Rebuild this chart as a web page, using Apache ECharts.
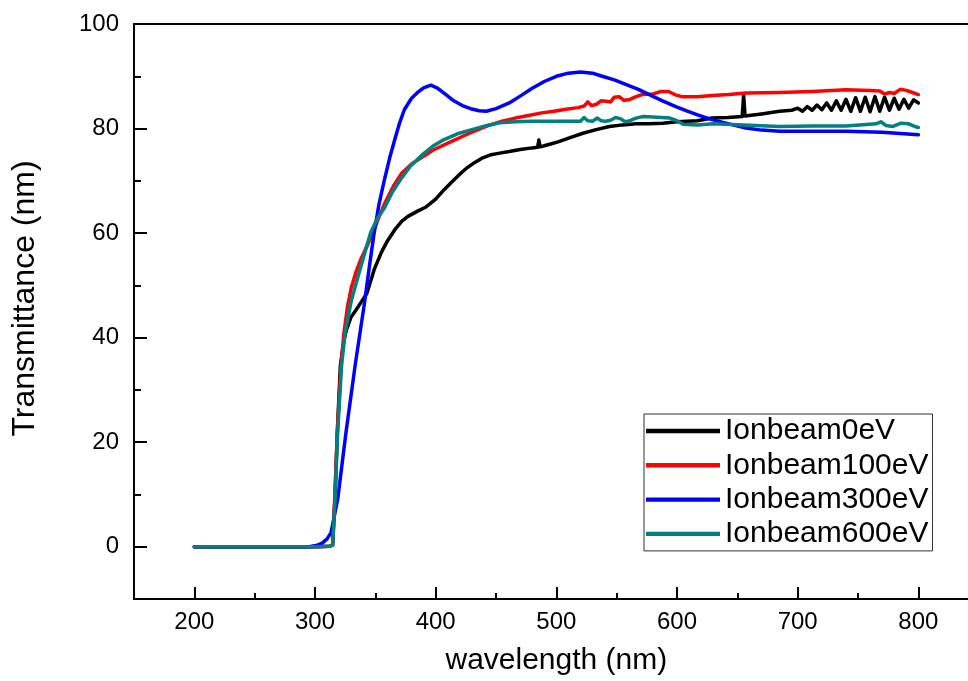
<!DOCTYPE html>
<html>
<head>
<meta charset="utf-8">
<script src="https://cdn.jsdelivr.net/npm/echarts@6/dist/echarts.min.js"></script>
<style>
html,body{margin:0;padding:0;background:#fff;overflow:hidden;width:968px;height:681px;}
#main{width:990px;height:681px;}
</style>
</head>
<body>
<div id="main"></div>
<script>
const seriesNames = ['Ionbeam0eV', 'Ionbeam100eV', 'Ionbeam300eV', 'Ionbeam600eV'];
const xMajorTicks = [200, 300, 400, 500, 600, 700, 800];
const xMinorTicks = [250, 350, 450, 550, 650, 750];
const yMajorTicks = [0, 20, 40, 60, 80, 100];
const yMinorTicks = [10, 30, 50, 70, 90];

const wl0 = [200, 250, 300, 312, 314.6, 316.5, 318.5, 321, 324, 326, 330, 334, 338, 343, 349, 355, 360, 366, 372, 377, 385, 392, 400, 407, 414, 421, 426, 431, 439, 446, 453, 461, 470, 480, 484.5, 485.5, 486.5, 490, 496, 502, 512, 522, 533, 544, 555, 566, 577, 588, 600, 617, 629, 642, 654, 655.2, 655.8, 656.4, 658, 670, 685, 695, 700, 704, 708, 712, 716, 720, 724, 728, 732, 736, 740, 744, 748, 752, 756, 760, 764, 768, 772, 776, 780, 784, 788, 792, 796, 800];
const t0 = [0, 0, 0, 0.1, 0.3, 9, 22, 34.6, 39.5, 41.5, 44, 45.3, 46.7, 48.5, 53, 56.3, 58.5, 60.6, 62.3, 63.2, 64.2, 65, 66.5, 68.3, 69.9, 71.5, 72.5, 73.3, 74.4, 75, 75.3, 75.6, 76, 76.3, 76.4, 77.8, 76.5, 76.7, 77.1, 77.5, 78.3, 79.1, 79.8, 80.4, 80.7, 80.9, 80.9, 81, 81.3, 81.5, 82, 82.1, 82.3, 86.4, 86.4, 82.4, 82.4, 82.8, 83.3, 83.5, 83.9, 83.3, 84.2, 83.5, 84.5, 83.6, 84.9, 83.5, 85.3, 83.5, 85.6, 83.3, 85.9, 83.3, 86.0, 83.2, 86.1, 83.3, 86.0, 83.5, 85.8, 83.7, 85.6, 83.9, 85.5, 84.9];

const wl1 = [200, 250, 300, 312, 314.5, 316.3, 318.5, 321.5, 324, 327, 330, 334, 338, 343, 347, 352, 358, 365, 372, 380, 388, 398, 411, 428, 444, 455, 466, 477, 488, 498, 508, 518, 523, 526, 529, 533, 537, 541, 545, 548, 552, 556, 560, 565, 571, 580, 587, 593, 598, 604, 617, 629, 643, 657, 685, 712, 740, 760, 768, 772, 776, 780, 785, 790, 795, 800];
const t1 = [0, 0, 0, 0.1, 0.3, 9, 22, 34.6, 41, 46, 49.5, 52.6, 55, 57.5, 59.5, 62.5, 65.8, 69, 71.5, 73.2, 74.4, 75.9, 77.3, 79.1, 80.6, 81.4, 82, 82.5, 83, 83.3, 83.7, 84, 84.3, 85.1, 84.4, 84.6, 85.3, 85.2, 85.1, 86, 86.1, 85.4, 85.5, 86, 86.5, 86.6, 87.1, 87.1, 86.5, 86.1, 86.1, 86.3, 86.5, 86.8, 86.9, 87.1, 87.4, 87.3, 87.2, 86.6, 86.9, 86.7, 87.5, 87.3, 86.9, 86.5];

const wl2 = [200, 250, 295, 302, 306, 310, 313.3, 318.8, 325.7, 333.2, 340.9, 345, 349, 353, 357.5, 362, 366, 370, 374, 380, 385, 390, 396, 401, 408, 415, 422, 429, 436, 442, 450, 461, 470, 480, 490, 500, 510, 520, 530, 538, 548, 558, 568, 577, 588, 599, 608, 617, 629, 643, 657, 670, 685, 712, 740, 770, 800];
const t2 = [0, 0, 0, 0.3, 0.7, 1.5, 2.7, 9.1, 21.9, 34.6, 46.5, 53.5, 60, 65.5, 70.2, 74.5, 77.8, 81, 83.6, 85.8, 86.9, 87.8, 88.3, 87.8, 86.6, 85.3, 84.4, 83.8, 83.4, 83.3, 83.8, 84.9, 86.2, 87.7, 89, 90, 90.6, 90.8, 90.6, 90, 89.3, 88.4, 87.5, 86.5, 85.3, 84.2, 83.4, 82.6, 81.7, 80.9, 80.1, 79.7, 79.5, 79.5, 79.5, 79.3, 78.8];

const wl3 = [200, 250, 300, 312, 314.6, 316.6, 318.8, 322, 325, 330, 336, 341, 346, 352, 357.5, 364, 371, 379, 388, 397.5, 407, 418, 430, 441, 453, 466, 480, 500, 520, 523, 526, 530, 534, 537, 541, 545, 549, 553, 557, 561, 566, 572, 580, 594, 600, 605, 617, 630, 655, 685, 712, 740, 765, 769, 773, 779, 785, 792, 797, 800];
const t3 = [0, 0, 0, 0.1, 0.3, 9, 22, 34.6, 41, 47, 52, 56, 60, 63, 64.8, 67.8, 70.3, 72.8, 74.8, 76.6, 77.9, 79, 79.8, 80.5, 81.1, 81.3, 81.4, 81.4, 81.4, 82.1, 81.5, 81.4, 82, 81.5, 81.4, 81.6, 82.1, 81.9, 81.3, 81.5, 82, 82.3, 82.2, 82, 81.5, 80.8, 80.7, 80.9, 80.7, 80.4, 80.5, 80.5, 80.9, 81.3, 80.6, 80.4, 81, 80.9, 80.4, 80.2];

const colors = ['#000000', '#ff0000', '#0000ff', '#008080'];
const xs = [wl0, wl1, wl2, wl3];
const ys = [t0, t1, t2, t3];

function zip(a, b) { return a.map((v, i) => [v, b[i]]); }

const FONT = '"Liberation Sans", Arial, sans-serif';
const chart = echarts.init(document.getElementById('main'), null, { renderer: 'canvas' });

const axisLineStyle = { color: '#000', width: 2 };

const option = {
  animation: false,
  backgroundColor: '#fff',
  grid: { left: 134, top: 24, width: 844.7, height: 576, containLabel: false },
  legend: {
    orient: 'vertical',
    left: 644,
    top: 414,
    padding: [2, 4, 2, 2],
    borderColor: '#333',
    borderWidth: 1,
    itemWidth: 74,
    itemHeight: 30,
    itemGap: 4.3,
    icon: 'path://M0,0L100,0L100,6L0,6Z',
    textStyle: { fontFamily: FONT, fontSize: 30, color: '#000', lineHeight: 30 },
    data: seriesNames
  },
  xAxis: [
    {
      type: 'value', min: 150, max: 850, position: 'bottom',
      name: 'wavelength (nm)', nameLocation: 'middle', nameGap: 47,
      nameTextStyle: { fontFamily: FONT, fontSize: 30, color: '#000' },
      axisLine: { show: true, onZero: false, lineStyle: axisLineStyle },
      axisTick: { show: true, inside: true, length: 12, lineStyle: { color: '#000', width: 2 }, customValues: xMajorTicks },
      axisLabel: { show: true, margin: 11, fontFamily: FONT, fontSize: 24, color: '#000', customValues: xMajorTicks },
      splitLine: { show: false }
    },
    {
      type: 'value', min: 150, max: 850, position: 'bottom',
      axisLine: { show: false, onZero: false },
      axisTick: { show: true, inside: true, length: 6, lineStyle: { color: '#000', width: 2 }, customValues: xMinorTicks },
      axisLabel: { show: false },
      splitLine: { show: false }
    },
    {
      type: 'value', min: 150, max: 850, position: 'top',
      axisLine: { show: true, onZero: false, lineStyle: axisLineStyle },
      axisTick: { show: false },
      axisLabel: { show: false },
      splitLine: { show: false }
    }
  ],
  yAxis: [
    {
      type: 'value', min: -10, max: 100, position: 'left',
      name: 'Transmittance (nm)', nameLocation: 'middle', nameGap: 93,
      nameTextStyle: { fontFamily: FONT, fontSize: 32, color: '#000', padding: [0, 0, 0, 26] },
      axisLine: { show: true, onZero: false, lineStyle: axisLineStyle },
      axisTick: { show: true, inside: true, length: 13, lineStyle: { color: '#000', width: 2 }, customValues: yMajorTicks },
      axisLabel: { show: true, margin: 15, fontFamily: FONT, fontSize: 24, color: '#000', customValues: yMajorTicks },
      splitLine: { show: false }
    },
    {
      type: 'value', min: -10, max: 100, position: 'left',
      axisLine: { show: false, onZero: false },
      axisTick: { show: true, inside: true, length: 7, lineStyle: { color: '#000', width: 2 }, customValues: yMinorTicks },
      axisLabel: { show: false },
      splitLine: { show: false }
    }
  ],
  series: seriesNames.map((name, i) => ({
    name: name,
    type: 'line',
    xAxisIndex: 0,
    yAxisIndex: 0,
    showSymbol: false,
    symbol: 'none',
    smooth: false,
    color: colors[i],
    lineStyle: { color: colors[i], width: 3.5, join: 'round', cap: 'round' },
    itemStyle: { color: colors[i] },
    data: zip(xs[i], ys[i])
  }))
};
chart.setOption(option);
</script>
</body>
</html>
